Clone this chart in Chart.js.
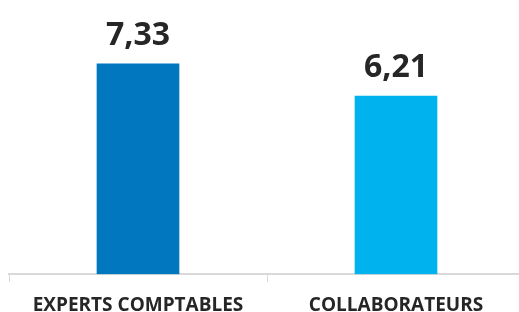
<!DOCTYPE html>
<html>
<head>
<meta charset="utf-8">
<script src="https://cdn.jsdelivr.net/npm/chart.js@4"></script>
<style>
    html, body { margin: 0; padding: 0; background: #fff; overflow: hidden; }
    #wrap { width: 525px; height: 312px; }
</style>
</head>
<body>
<div id="wrap"><canvas id="myChart"></canvas></div>
<script>
const categories = ['EXPERTS COMPTABLES', 'COLLABORATEURS'];
const values = [7.33, 6.21];
const barColors = ['#0077bf', '#00b2ee'];

// Value labels above the bars, French decimal comma
const valueLabels = {
    id: 'valueLabels',
    afterDatasetsDraw(chart) {
        const ctx = chart.ctx;
        const meta = chart.getDatasetMeta(0);
        ctx.save();
        ctx.font = 'bold 32px "Open Sans"';
        ctx.fillStyle = '#262626';
        ctx.textAlign = 'center';
        ctx.textBaseline = 'alphabetic';
        meta.data.forEach((bar, i) => {
            const text = values[i].toFixed(2).replace('.', ',');
            ctx.fillText(text, bar.x, bar.y - 19);
        });
        ctx.restore();
    }
};

const ctx = document.getElementById('myChart').getContext('2d');
new Chart(ctx, {
    type: 'bar',
    data: {
        labels: categories,
        datasets: [{
            data: values,
            backgroundColor: barColors,
            barThickness: 82
        }]
    },
    options: {
        responsive: true,
        maintainAspectRatio: false,
        animation: false,
        layout: { padding: { left: 9, right: 0, top: 16, bottom: -17 } },
        plugins: {
            legend: { display: false },
            tooltip: { enabled: false }
        },
        scales: {
            x: {
                grid: {
                    display: true,
                    drawOnChartArea: false,
                    drawTicks: true,
                    tickLength: 8,
                    color: '#d9d9d9',
                    offset: true
                },
                border: { color: '#d9d9d9', width: 2 },
                ticks: {
                    color: '#262626',
                    padding: 12,
                    font: { family: 'Open Sans', size: 19, weight: 'bold' }
                }
            },
            y: {
                display: false,
                min: 0,
                max: 9
            }
        }
    },
    plugins: [valueLabels]
});
</script>
</body>
</html>
